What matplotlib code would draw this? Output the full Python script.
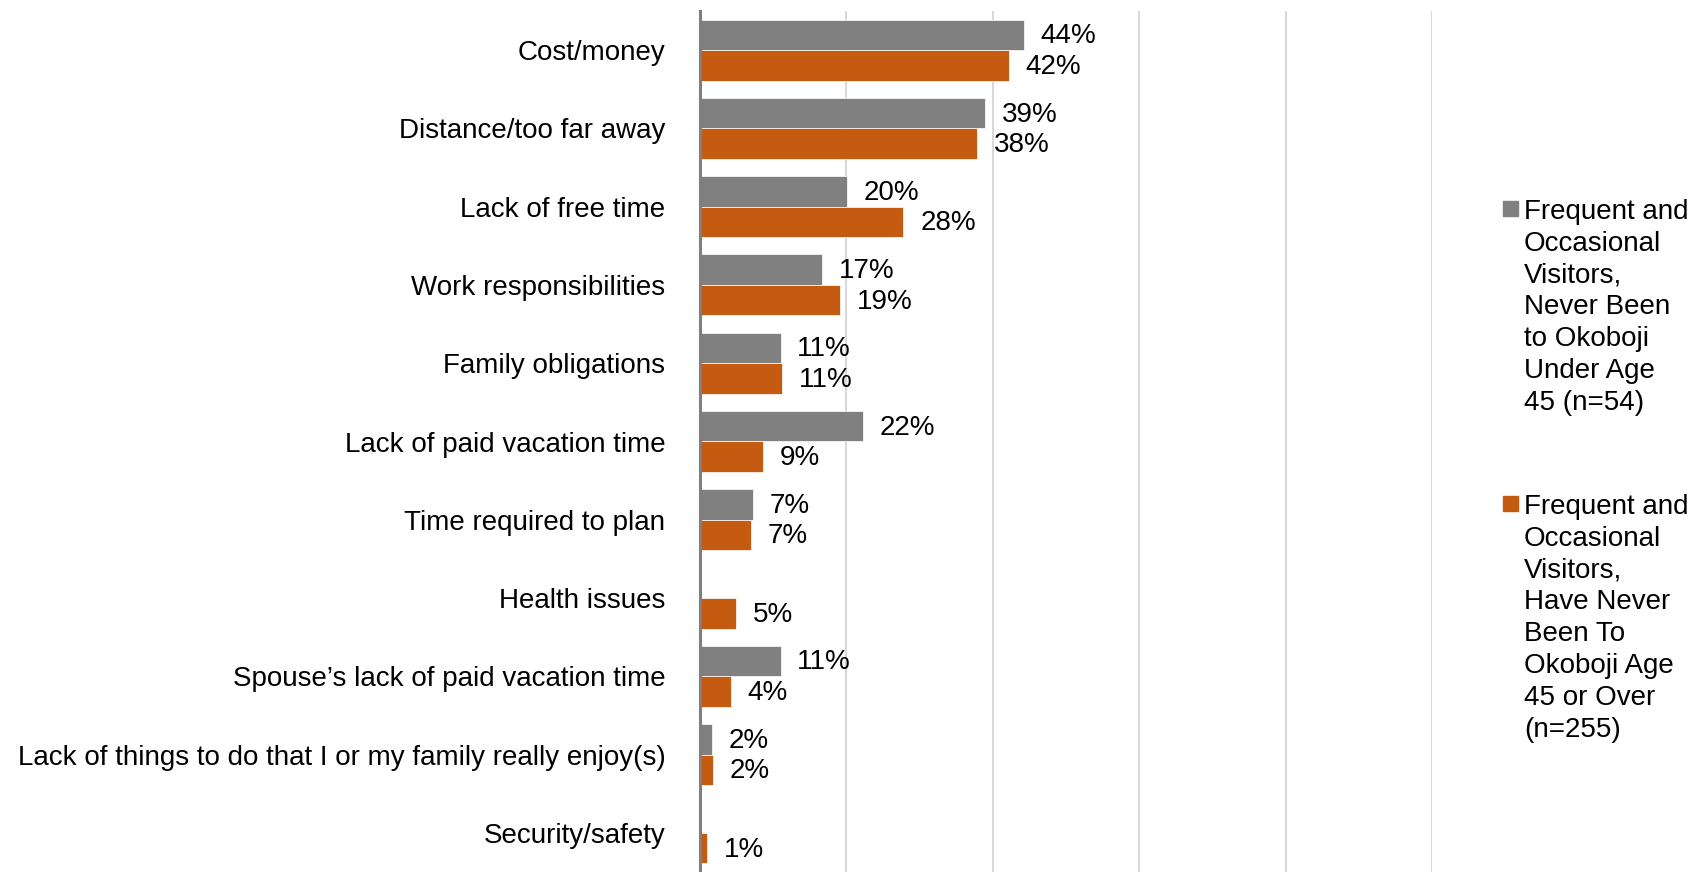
"""
Barriers to visiting Okoboji - grouped horizontal bar chart
"""
import matplotlib
matplotlib.use('Agg')
import matplotlib.pyplot as plt
from matplotlib.patches import Rectangle
import numpy as np


# ==================== data ====================
CATEGORIES = [
    "Cost/money",
    "Distance/too far away",
    "Lack of free time",
    "Work responsibilities",
    "Family obligations",
    "Lack of paid vacation time",
    "Time required to plan",
    "Health issues",
    "Spouse\u2019s lack of paid vacation time",
    "Lack of things to do that I or my family really enjoy(s)",
    "Security/safety",
]
UNDER_45 = [44.2, 38.9, 20.1, 16.7, 11.0, 22.2, 7.2, 0, 11.0, 1.7, 0]
OVER_45 = [42.2, 37.9, 27.8, 19.1, 11.2, 8.6, 6.9, 4.9, 4.2, 1.8, 1.0]

SERIES_LABELS = [
    "Frequent and\nOccasional\nVisitors,\nNever Been\nto Okoboji\nUnder Age\n45 (n=54)",
    "Frequent and\nOccasional\nVisitors,\nHave Never\nBeen To\nOkoboji Age\n45 or Over\n(n=255)",
]
COLORS = ["#808080", "#C55A11"]

W, H = 1702, 872


def main():
    plt.rcParams['font.family'] = ['Liberation Sans', 'DejaVu Sans']
    fs = 20

    fig = plt.figure(figsize=(W / 100, H / 100), dpi=100)
    ax = fig.add_axes([700 / W, 0.0, 732 / W, 1 - 11 / H])

    y = np.arange(len(CATEGORIES))
    h = 0.39
    for i, (vals, col) in enumerate(zip([UNDER_45, OVER_45], COLORS)):
        off = (i - 0.5) * h
        ax.barh(y + off, vals, height=h, color=col, zorder=3,
                edgecolor='white', linewidth=0.5)
        for yy, v in zip(y + off, vals):
            if v > 0:
                ax.annotate(f"{round(v)}%", (v, yy), xytext=(12, -1), textcoords='offset points',
                            va='center', ha='left', fontsize=fs, color='black')

    ax.set_xlim(0, 100)
    ax.set_ylim(len(CATEGORIES) - 0.5, -0.5)
    ax.set_xticks([0, 20, 40, 60, 80, 100])
    ax.set_xticklabels([])
    ax.tick_params(axis='x', length=0)
    ax.set_yticks(y)
    ax.set_yticklabels(CATEGORIES, fontsize=fs)
    ax.tick_params(axis='y', length=0, pad=25)
    ax.grid(axis='x', color='#D9D9D9', linewidth=1.5, zorder=0)
    for s in ['top', 'right', 'bottom']:
        ax.spines[s].set_visible(False)
    ax.spines['left'].set_color('#7F7F7F')
    ax.spines['left'].set_linewidth(2.2)
    ax.spines['left'].set_zorder(4)

    # legend drawn by hand so the square sits on the first line
    for label, col, top in zip(SERIES_LABELS, COLORS, [201, 496]):
        fig.add_artist(Rectangle((1503 / W, 1 - (top + 15) / H), 15 / W, 15 / H,
                                 transform=fig.transFigure, color=col))
        fig.text(1524 / W, 1 - (top - 2) / H, label, fontsize=fs, va='top',
                 ha='left', linespacing=1.29)

    fig.savefig('out.png', dpi=100)


if __name__ == "__main__":
    main()
